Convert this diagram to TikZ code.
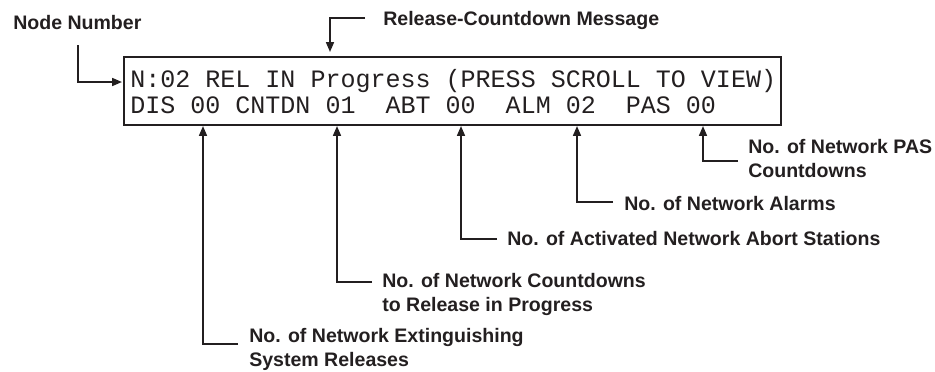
\documentclass[tikz,border=0pt]{standalone}
\usepackage{fontspec}
\setmainfont{Liberation Sans}
\newfontfamily\lcdfont{Liberation Mono}
\usetikzlibrary{arrows.meta}
\definecolor{cInk}{RGB}{35,31,32}

\begin{document}
\begin{tikzpicture}[x=0.025cm,y=-0.025cm]
\tikzset{
 lbl/.style={anchor=base west,inner sep=0,align=left,text=cInk,font=\fontsize{13.9}{16.4}\selectfont\bfseries},
 lcd/.style={anchor=base west,inner sep=0,text=cInk,font=\fontsize{17.8}{18}\selectfont\lcdfont},
 ar/.style={-{Triangle[length=7pt,width=5.6pt]},line width=1.3pt,draw=cInk}
}
\useasboundingbox (0,0) rectangle (935,371);
\node[draw=cInk,line width=1pt,minimum width=16.425cm,minimum height=1.7cm,inner sep=0] (disp) at (452.5,91) {};
\node[lcd] (row1) at (130,87) {N:02 REL IN Progress (PRESS SCROLL TO VIEW)};
\node[lcd] (row2) at (130,113) {DIS 00 CNTDN 01\ \ ABT 00\ \ ALM 02\ \ PAS 00};

\node[lbl] (nodenum) at (13,29) {Node Number};
\node[lbl] (relmsg) at (383,25) {Release-Countdown Message};
\node[lbl] (ext) at (249,366) {No. of Network Extinguishing\\System Releases};
\node[lbl] (cnt) at (382,311) {No. of Network Countdowns\\to Release in Progress};
\node[lbl] (abt) at (507,245) {No. of Activated Network Abort Stations};
\node[lbl] (alm) at (624,210) {No. of Network Alarms};
\node[lbl] (pas) at (748,177) {No. of Network PAS\\Countdowns};

\coordinate (n0) at (78,45);  \coordinate (nt) at (122,82);
\coordinate (r0) at (365,18); \coordinate (rt) at (330,52);
\coordinate (e0) at (238,344); \coordinate (et) at (203,126);
\coordinate (c0) at (372,282); \coordinate (ct) at (337,126);
\coordinate (a0) at (497,239); \coordinate (at) at (461,126);
\coordinate (m0) at (613,202); \coordinate (mt) at (577,126);
\coordinate (p0) at (738,161); \coordinate (pt) at (703,126);
\draw[ar] (n0) |- (nt);
\draw[ar] (r0) -| (rt);
\draw[ar] (e0) -| (et);
\draw[ar] (c0) -| (ct);
\draw[ar] (a0) -| (at);
\draw[ar] (m0) -| (mt);
\draw[ar] (p0) -| (pt);
\end{tikzpicture}
\end{document}
